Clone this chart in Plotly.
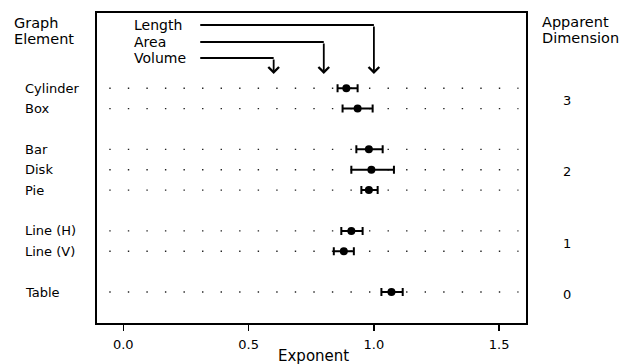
import plotly.graph_objects as go

# ---------------- data ----------------
element_names = ["Cylinder", "Box", "Bar", "Disk", "Pie", "Line (H)", "Line (V)", "Table"]
element_dimension = [3, 3, 2, 2, 2, 1, 1, 0]
exponent_est = [0.89, 0.935, 0.98, 0.99, 0.98, 0.91, 0.88, 1.07]
exponent_low = [0.855, 0.875, 0.93, 0.91, 0.95, 0.87, 0.84, 1.03]
exponent_high = [0.935, 0.995, 1.035, 1.08, 1.015, 0.955, 0.92, 1.115]

reference_names = ["Length", "Area", "Volume"]
reference_exponents = [1.0, 0.8, 0.6]

x_tick_values = [0.0, 0.5, 1.0, 1.5]
x_tick_labels = ["0.0", "0.5", "1.0", "1.5"]

# ---------------- layout helpers ----------------
W, H = 622, 364
ML, MR, MT, MB = 97, 96, 13, 41
PW, PH = W - ML - MR, H - MT - MB
FONT = "DejaVu Sans, Liberation Sans, Arial, sans-serif"


def px(x):
    return (x - ML) / PW


def py(y):
    return (H - MB - y) / PH


# category order with blank spacer rows between dimension groups
categories = []
spacer = 0
for i, name in enumerate(element_names):
    if i > 0 and element_dimension[i] != element_dimension[i - 1]:
        spacer += 1
        categories.append(" " * spacer)
    categories.append(name)

fig = go.Figure()

# dotted guide rows
dot_x, dot_y = [], []
for name in element_names:
    dot_x += [-0.056, 1.577, None]
    dot_y += [name, name, None]
fig.add_trace(go.Scatter(
    x=dot_x, y=dot_y, mode="lines", connectgaps=False,
    line=dict(color="#222", width=1.4, dash="1.4px,17.15px"),
    hoverinfo="skip", showlegend=False,
))

# estimates with intervals
fig.add_trace(go.Scatter(
    x=exponent_est, y=element_names, mode="markers",
    marker=dict(color="black", size=8),
    error_x=dict(
        type="data", symmetric=False,
        array=[h - e for h, e in zip(exponent_high, exponent_est)],
        arrayminus=[e - l for e, l in zip(exponent_est, exponent_low)],
        color="black", thickness=2, width=4,
    ),
    showlegend=False,
))

annotations = []
shapes = []

# element labels (left, left-aligned)
for name in element_names:
    annotations.append(dict(
        text=name, xref="paper", x=px(23), xanchor="left",
        yref="y", y=categories.index(name), yanchor="middle",
        showarrow=False, font=dict(family=FONT, size=13, color="black"),
    ))

# headers
for txt, x, y in [("Graph", 12, 23), ("Element", 12, 39),
                  ("Apparent", 540, 22), ("Dimension", 540, 38)]:
    annotations.append(dict(
        text=txt, xref="paper", x=px(x), xanchor="left",
        yref="paper", y=py(y), yanchor="middle",
        showarrow=False, font=dict(family=FONT, size=14.5, color="black"),
    ))

# apparent dimension numbers, centered on their group
for d in sorted(set(element_dimension), reverse=True):
    idx = [categories.index(n) for n, dd in zip(element_names, element_dimension) if dd == d]
    annotations.append(dict(
        text=str(d), xref="paper", x=px(567), xanchor="center",
        yref="y", y=sum(idx) / len(idx), yanchor="middle", yshift=-2,
        showarrow=False, font=dict(family=FONT, size=13, color="black"),
    ))

# reference exponent arrows
line_y = [25, 42, 58]
tip_y = 74
for name, val, ly in zip(reference_names, reference_exponents, line_y):
    annotations.append(dict(
        text=name, xref="paper", x=px(132), xanchor="left",
        yref="paper", y=py(ly), yanchor="middle",
        showarrow=False, font=dict(family=FONT, size=14, color="black"),
    ))
    shapes.append(dict(
        type="line", xref="x", x0=0.307, x1=val,
        yref="paper", y0=py(ly), y1=py(ly),
        line=dict(color="black", width=1.8),
    ))
    annotations.append(dict(
        text="", xref="x", x=val, yref="paper", y=py(tip_y),
        showarrow=True, axref="pixel", ayref="pixel", ax=0, ay=-(tip_y - ly),
        arrowhead=4, arrowsize=1.15, arrowwidth=1.8, arrowcolor="black",
    ))

# x-axis title
annotations.append(dict(
    text="Exponent", xref="paper", x=px(313), xanchor="center",
    yref="paper", y=py(356), yanchor="middle",
    showarrow=False, font=dict(family=FONT, size=15, color="black"),
))

fig.update_layout(
    width=W, height=H, autosize=False,
    margin=dict(l=ML, r=MR, t=MT, b=MB),
    paper_bgcolor="white", plot_bgcolor="white",
    font=dict(family=FONT, color="black"),
    annotations=annotations, shapes=shapes,
    xaxis=dict(
        range=[-0.105, 1.607], tickvals=x_tick_values, ticktext=x_tick_labels,
        showline=True, mirror=True, linecolor="black", linewidth=1.8,
        ticks="outside", ticklen=6, tickwidth=1.5, tickcolor="black",
        showgrid=False, zeroline=False,
        tickfont=dict(family=FONT, size=13, color="black"),
        ticklabelstandoff=3,
    ),
    yaxis=dict(
        type="category", categoryorder="array", categoryarray=categories,
        range=[11.52, -3.69],
        showline=True, mirror=True, linecolor="black", linewidth=1.8,
        showticklabels=False, ticks="", showgrid=False, zeroline=False,
    ),
)

fig.write_html(
    "out.html",
    config={"displayModeBar": False, "staticPlot": True},
    post_script="document.body.style.margin='0';document.body.style.padding='0';",
)
